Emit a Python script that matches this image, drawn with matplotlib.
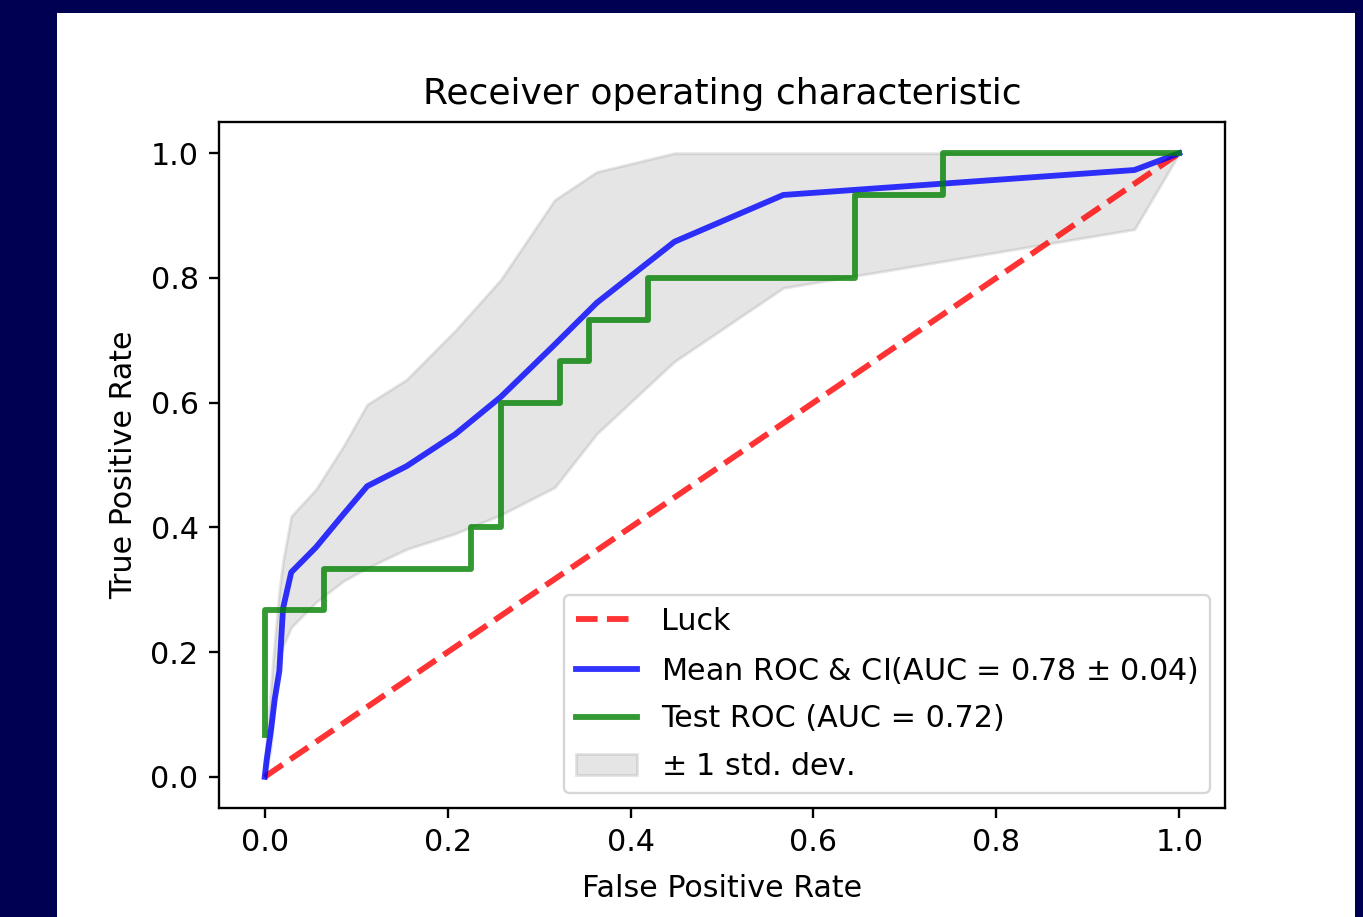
import matplotlib
matplotlib.use("Agg")
import matplotlib.pyplot as plt
from matplotlib.patches import Rectangle

# ---- data ----
mean_fpr = [0, 0.002, 0.007, 0.011, 0.016, 0.020, 0.029, 0.056, 0.086, 0.112,
            0.155, 0.208, 0.258, 0.317, 0.363, 0.448, 0.567, 0.951, 1.0]
mean_tpr = [0, 0.026, 0.077, 0.125, 0.170, 0.270, 0.328, 0.368, 0.421, 0.466,
            0.498, 0.549, 0.609, 0.693, 0.760, 0.858, 0.933, 0.973, 1.0]
tpr_upper = [0.01, 0.06, 0.15, 0.22, 0.30, 0.346, 0.418, 0.461, 0.530, 0.597,
             0.637, 0.715, 0.797, 0.925, 0.970, 1.0, 1.0, 1.0, 1.0]
tpr_lower = [0, 0.01, 0.05, 0.125, 0.194, 0.21, 0.240, 0.280, 0.314, 0.335,
             0.365, 0.390, 0.420, 0.464, 0.550, 0.666, 0.784, 0.878, 1.0]

test_fpr = [0, 0, 0.0645, 0.0645, 0.2258, 0.2258, 0.2581, 0.2581, 0.3226, 0.3226,
            0.3548, 0.3548, 0.4194, 0.4194, 0.6452, 0.6452, 0.7419, 0.7419, 1.0]
test_tpr = [0.0667, 0.2667, 0.2667, 0.3333, 0.3333, 0.4, 0.4, 0.6, 0.6, 0.6667,
            0.6667, 0.7333, 0.7333, 0.8, 0.8, 0.9333, 0.9333, 1.0, 1.0]

luck_x = [0, 1]
luck_y = [0, 1]

mean_auc, std_auc, test_auc = 0.78, 0.04, 0.72

# ---- figure ----
S = 2.1    # line scale factor
T = 2.17   # text scale factor
fig = plt.figure(figsize=(13.63, 9.17), dpi=100, facecolor="#000052")
bg = Rectangle((57 / 1363, 0), (1355 - 57) / 1363, 904 / 917,
               transform=fig.transFigure, facecolor="white",
               edgecolor="none", zorder=-10)
fig.add_artist(bg)
ax = fig.add_axes([219 / 1363, 109 / 917, (1225 - 219) / 1363, (808 - 122) / 917])
ax.set_zorder(1)

ax.plot(luck_x, luck_y, linestyle="--", lw=2 * S, color="r", label="Luck", alpha=.8)
ax.plot(mean_fpr, mean_tpr, color="b",
        label="Mean ROC & CI(AUC = %0.2f $\\pm$ %0.2f)" % (mean_auc, std_auc),
        lw=2 * S, alpha=.8)
ax.plot(test_fpr, test_tpr, color="green",
        label="Test ROC (AUC = %0.2f)" % test_auc, lw=2 * S, alpha=.8)
ax.fill_between(mean_fpr, tpr_lower, tpr_upper, color="grey", alpha=.2,
                lw=1 * S, label="$\\pm$ 1 std. dev.")

ax.set_xlim(-0.05, 1.05)
ax.set_ylim(-0.05, 1.05)
fs = 10 * T
ax.set_xlabel("False Positive Rate", fontsize=fs, labelpad=4 * T + 3)
ax.set_ylabel("True Positive Rate", fontsize=fs, labelpad=4 * T)
ax.set_title("Receiver operating characteristic", fontsize=12 * T, pad=6 * T)
ax.tick_params(labelsize=fs, width=0.8 * S, length=3.5 * S, pad=3.5 * S)
for sp in ax.spines.values():
    sp.set_linewidth(0.8 * S)
leg = ax.legend(loc="lower right", fontsize=fs, labelspacing=0.62)
leg.get_frame().set_linewidth(0.8 * S)

fig.savefig("out.png", dpi=100, facecolor=fig.get_facecolor())
